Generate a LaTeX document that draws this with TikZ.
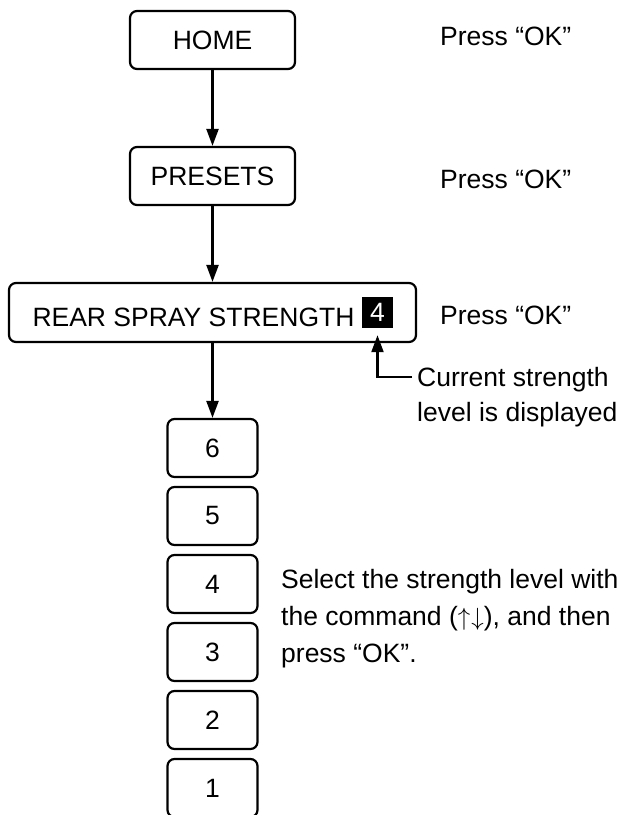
\documentclass[tikz,border=0pt]{standalone}
\usepackage{fontspec}
\setmainfont{Liberation Sans}
\usetikzlibrary{arrows.meta}
\newcommand\diagfont{\fontsize{26.5}{37}\selectfont}
\begin{document}
\begin{tikzpicture}[x=1pt,y=-1pt,
  box/.style={draw, line width=2.2pt, rounded corners=7pt, inner sep=0pt, font=\diagfont},
  arr/.style={line width=2.2pt, -{Triangle[length=17pt,width=12pt]}},
  lbl/.style={inner sep=0pt, font=\diagfont, anchor=base west},
  note/.style={inner sep=0pt, font=\diagfont, align=left, anchor=north west}]
\clip (0,0) rectangle (621,815);
\fill[white] (0,0) rectangle (621,815);
% main boxes
\node[box, minimum width=165pt, minimum height=58pt] (home) at (212.5,40) {HOME};
\node[box, minimum width=165pt, minimum height=58pt] (presets) at (212.5,176) {PRESETS};
\node[box, minimum width=407pt, minimum height=59pt] (rear) at (212.5,312.5)
  {\raisebox{-4pt}[19pt][0pt]{REAR SPRAY STRENGTH}\kern38pt\relax};
\node[fill=black, text=white, inner sep=0pt, minimum width=31pt, minimum height=31pt, font=\diagfont] (cur) at (377.5,312.5) {4};
% level boxes
\foreach \n [count=\i] in {6,5,4,3,2,1}
  \node[box, minimum width=90pt, minimum height=58pt] (lvl\n) at (212.5,{448+68*(\i-1)}) {\n};
% arrows
\draw[arr] (home.south) -- (presets.north);
\draw[arr] (presets.south) -- (rear.north);
\draw[arr] (rear.south) -- (lvl6.north);
% right-hand texts
\node[lbl] (ok1) at (440,45) {Press “OK”};
\node[lbl] (ok2) at (440,188) {Press “OK”};
\node[lbl] (ok3) at (440,324) {Press “OK”};
\node[note, font=\fontsize{26.5}{35}\selectfont] (curtxt) at (417,367) {Current strength\\level is displayed};
\coordinate (curl) at (412,377);
\draw[arr] (curl) -| ([yshift=-7pt]cur.south);
\node[note] (sel) at (281,569) {Select the strength level with\\the command ($\mathord\uparrow\kern1pt\mathord\downarrow$), and then\\press “OK”.};
\end{tikzpicture}
\end{document}
